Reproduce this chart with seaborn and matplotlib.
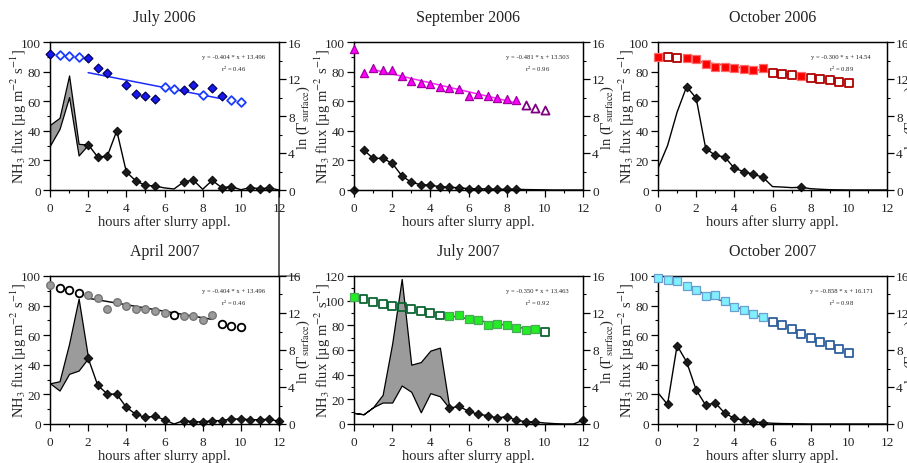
import numpy as np
import matplotlib
matplotlib.use("Agg")
import matplotlib.pyplot as plt
from matplotlib.ticker import MultipleLocator
from matplotlib.patches import ConnectionPatch
import seaborn as sns

# ------------------------------------------------------------------ data
titles = ["July 2006", "September 2006", "October 2006",
          "April 2007", "July 2007", "October 2007"]

# ---- July 2006
jul06_ln_x = [0, 0.5, 1, 1.5, 2, 2.5, 3, 4, 4.5, 5, 5.5, 6, 6.5, 7, 7.5, 8, 8.5, 9, 9.5, 10]
jul06_ln_y = [14.74, 14.62, 14.51, 14.42, 14.30, 13.22, 12.67, 11.31, 10.43, 10.11, 9.79,
              11.12, 10.94, 10.86, 11.34, 10.29, 10.98, 10.11, 9.71, 9.46]
jul06_ln_filled = [1, 0, 0, 0, 1, 1, 1, 1, 1, 1, 1, 0, 0, 1, 1, 0, 1, 1, 0, 0]
jul06_flux_x = [2, 2.5, 3, 3.5, 4, 4.5, 5, 5.5, 6, 6.5, 7, 7.5, 8, 8.5, 9, 9.5, 10, 10.5, 11, 11.5, 12]
jul06_flux_y = [30.7, 22.3, 22.8, 40.0, 12.2, 6.1, 3.2, 2.7, 1.4, 0.7, 5.4, 6.8, 0.5, 6.5,
                1.6, 2.3, 0.2, 1.6, 0.9, 1.4, 0.0]
jul06_flux_mark = [1, 1, 1, 1, 1, 1, 1, 1, 0, 0, 1, 1, 0, 1, 1, 1, 0, 1, 1, 1, 0]
jul06_band_x = [0, 0.5, 1, 1.5, 2]
jul06_band_lo = [30.0, 41.3, 62.8, 23.3, 30.7]
jul06_band_hi = [44.0, 48.8, 77.4, 31.2, 30.7]
jul06_fit = [-0.404, 13.496]
jul06_fit_range = [2, 9]
jul06_eq = ["y = -0.404 * x + 13.496", "r$^2$ = 0.46"]

# ---- September 2006
sep06_ln_x = [0, 0.5, 1, 1.5, 2, 2.5, 3, 3.5, 4, 4.5, 5, 5.5, 6, 6.5, 7, 7.5, 8, 8.5, 9, 9.5, 10]
sep06_ln_y = [15.28, 12.61, 13.22, 13.01, 12.93, 12.35, 11.81, 11.52, 11.41, 11.17, 10.98,
              10.91, 10.19, 10.34, 10.14, 9.90, 9.79, 9.71, 9.14, 8.88, 8.70]
sep06_ln_filled = [1] * 18 + [0, 0, 0]
sep06_flux_x = [0, 0.5, 1, 1.5, 2, 2.5, 3, 3.5, 4, 4.5, 5, 5.5, 6, 6.5, 7, 7.5, 8, 8.5,
                9, 9.5, 10, 10.5, 11, 11.5, 12]
sep06_flux_y = [0.0, 27.1, 21.4, 21.4, 18.1, 9.7, 5.2, 3.6, 3.2, 2.3, 1.8, 1.6, 0.9, 0.9,
                0.7, 0.5, 0.5, 0.5, 0.3, 0.2, 0.1, 0, 0, 0, 0]
sep06_flux_mark = [1] * 18 + [0] * 7
sep06_line_start = 1
sep06_fit = [-0.481, 13.503]
sep06_fit_range = [1, 8.5]
sep06_eq = ["y = -0.481 * x + 13.503", "r$^2$ = 0.96"]

# ---- October 2006
oct06_ln_x = [0, 0.5, 1, 1.5, 2, 2.5, 3, 3.5, 4, 4.5, 5, 5.5, 6, 6.5, 7, 7.5, 8, 8.5, 9, 9.5, 10]
oct06_ln_y = [14.37, 14.34, 14.27, 14.22, 14.16, 13.65, 13.33, 13.33, 13.15, 13.04, 12.96,
              13.15, 12.67, 12.53, 12.43, 12.32, 12.10, 11.95, 11.84, 11.70, 11.52]
oct06_ln_filled = [1, 0, 0, 1, 1, 1, 1, 1, 1, 1, 1, 1, 0, 0, 0, 1, 0, 0, 0, 0, 0]
oct06_flux_x = [0, 0.5, 1, 1.5, 2, 2.5, 3, 3.5, 4, 4.5, 5, 5.5, 6, 6.5, 7, 7.5, 8, 8.5,
                9, 9.5, 10, 10.5, 11, 11.5, 12]
oct06_flux_y = [14.7, 30.0, 52.6, 69.8, 62.1, 28.0, 23.5, 22.3, 14.7, 12.4, 10.6, 8.6, 2.3,
                2.0, 1.6, 1.8, 0.9, 0.5, 0.2, 0.1, 0, 0, 0, 0, 0]
oct06_flux_mark = [0, 0, 0, 1, 1, 1, 1, 1, 1, 1, 1, 1, 0, 0, 0, 1, 0, 0, 0, 0, 0, 0, 0, 0, 0]
oct06_fit = [-0.300, 14.54]
oct06_fit_range = [1.5, 7.5]
oct06_eq = ["y = -0.300 * x + 14.54", "r$^2$ = 0.89"]

# ---- April 2007
apr07_ln_x = [0, 0.5, 1, 1.5, 2, 2.5, 3, 3.5, 4, 4.5, 5, 5.5, 6, 6.5, 7, 7.5, 8, 8.5, 9, 9.5, 10]
apr07_ln_y = [14.99, 14.70, 14.45, 14.16, 13.90, 13.62, 12.43, 13.15, 12.72, 12.46, 12.38,
              12.18, 11.98, 11.78, 11.63, 11.66, 11.20, 11.81, 10.83, 10.62, 10.48]
apr07_ln_filled = [1, 0, 0, 0, 1, 1, 1, 1, 1, 1, 1, 1, 1, 0, 1, 1, 1, 1, 0, 0, 0]
apr07_flux_x = [2, 2.5, 3, 3.5, 4, 4.5, 5, 5.5, 6, 6.5, 7, 7.5, 8, 8.5, 9, 9.5, 10, 10.5, 11, 11.5, 12]
apr07_flux_y = [44.5, 26.2, 20.3, 20.1, 11.3, 6.5, 4.5, 5.2, 2.9, 0.0, 2.3, 1.6, 1.4, 2.3,
                2.3, 3.4, 3.4, 2.9, 2.9, 3.2, 1.8]
apr07_flux_mark = [1, 1, 1, 1, 1, 1, 1, 1, 1, 0, 1, 1, 1, 1, 1, 1, 1, 1, 1, 1, 1]
apr07_band_x = [0, 0.5, 1, 1.5, 2]
apr07_band_lo = [27.5, 22.6, 33.9, 36.1, 44.5]
apr07_band_hi = [27.5, 28.9, 54.2, 84.7, 44.5]
apr07_fit = [-0.352, 14.30]
apr07_fit_range = [2, 8.5]
apr07_eq = ["y = -0.404 * x + 13.496", "r$^2$ = 0.46"]

# ---- July 2007
jul07_ln_x = [0, 0.5, 1, 1.5, 2, 2.5, 3, 3.5, 4, 4.5, 5, 5.5, 6, 6.5, 7, 7.5, 8, 8.5, 9, 9.5, 10]
jul07_ln_y = [13.68, 13.47, 13.21, 13.00, 12.77, 12.64, 12.39, 12.20, 11.99, 11.73, 11.63,
              11.76, 11.40, 11.29, 10.68, 10.83, 10.72, 10.39, 10.11, 10.28, 9.96]
jul07_ln_filled = [1, 0, 0, 0, 0, 0, 0, 0, 0, 0, 1, 1, 1, 1, 1, 1, 1, 1, 1, 1, 0]
jul07_flux_x = [5, 5.5, 6, 6.5, 7, 7.5, 8, 8.5, 9, 9.5, 10, 10.5, 11, 11.5, 12]
jul07_flux_y = [12.8, 14.4, 10.3, 7.9, 6.8, 4.9, 6.0, 3.0, 1.9, 1.6, 0.8, 0.3, 0.0, 0.0, 3.0]
jul07_flux_mark = [1, 1, 1, 1, 1, 1, 1, 1, 1, 1, 0, 0, 0, 0, 1]
jul07_band_x = [0, 0.5, 1, 1.5, 2, 2.5, 3, 3.5, 4, 4.5, 5]
jul07_band_lo = [9.0, 7.9, 13.6, 17.4, 17.4, 31.2, 26.1, 9.5, 25.0, 22.5, 12.8]
jul07_band_hi = [9.0, 7.9, 13.6, 23.6, 65.2, 117.6, 48.1, 50.2, 59.5, 61.9, 12.8]
jul07_fit = [-0.350, 13.463]
jul07_fit_range = [5, 9.5]
jul07_eq = ["y = -0.350 * x + 13.463", "r$^2$ = 0.92"]

# ---- October 2007
oct07_ln_x = [0, 0.5, 1, 1.5, 2, 2.5, 3, 3.5, 4, 4.5, 5, 5.5, 6, 6.5, 7, 7.5, 8, 8.5, 9, 9.5, 10]
oct07_ln_y = [15.74, 15.52, 15.42, 14.94, 14.48, 13.82, 13.97, 13.31, 12.66, 12.29, 11.89,
              11.52, 11.06, 10.66, 10.22, 9.78, 9.34, 8.91, 8.51, 8.08, 7.63]
oct07_ln_filled = [1] * 12 + [0] * 9
oct07_flux_x = [0, 0.5, 1, 1.5, 2, 2.5, 3, 3.5, 4, 4.5, 5, 5.5, 6, 6.5, 7, 7.5, 8, 8.5,
                9, 9.5, 10, 10.5, 11, 11.5, 12]
oct07_flux_y = [21.1, 13.2, 53.0, 42.0, 23.0, 12.7, 14.3, 7.3, 3.9, 2.5, 1.6, 0.9, 0.5, 0.3,
                0.2, 0.1, 0, 0, 0, 0, 0, 0, 0, 0, 0]
oct07_flux_mark = [0] + [1] * 11 + [0] * 13
oct07_fit = [-0.858, 16.171]
oct07_fit_range = [1.5, 5.5]
oct07_eq = ["y = -0.858 * x + 16.171", "r$^2$ = 0.98"]

# ------------------------------------------------------------------ style
sns.set_style("ticks")
plt.rcParams["font.family"] = ["Liberation Serif", "DejaVu Serif"]
plt.rcParams["mathtext.fontset"] = "stix"
plt.rcParams["axes.linewidth"] = 0.9
plt.rcParams["text.color"] = "#222222"

panels = [
    dict(ln=(jul06_ln_x, jul06_ln_y, jul06_ln_filled), flux=(jul06_flux_x, jul06_flux_y, jul06_flux_mark),
         band=(jul06_band_x, jul06_band_lo, jul06_band_hi), fit=jul06_fit, fr=jul06_fit_range, eq=jul06_eq,
         marker="D", s=20, fc="#1818f0", ec="#00005a", oc="#1a3cff", ofc="white", fitc="#1a2cff", ymax=100),
    dict(ln=(sep06_ln_x, sep06_ln_y, sep06_ln_filled), flux=(sep06_flux_x, sep06_flux_y, sep06_flux_mark),
         band=None, fit=sep06_fit, fr=sep06_fit_range, eq=sep06_eq, line_start=sep06_line_start,
         marker="^", s=34, fc="#ff00ff", ec="#a000a0", oc="#800080", ofc="white", fitc="#ff22ff", ymax=100),
    dict(ln=(oct06_ln_x, oct06_ln_y, oct06_ln_filled), flux=(oct06_flux_x, oct06_flux_y, oct06_flux_mark),
         band=None, fit=oct06_fit, fr=oct06_fit_range, eq=oct06_eq,
         marker="s", s=38, fc="#ff0000", ec="#ff6a6a", oc="#b00000", ofc="white", fitc="#ff2020", ymax=100),
    dict(ln=(apr07_ln_x, apr07_ln_y, apr07_ln_filled), flux=(apr07_flux_x, apr07_flux_y, apr07_flux_mark),
         band=(apr07_band_x, apr07_band_lo, apr07_band_hi), fit=apr07_fit, fr=apr07_fit_range, eq=apr07_eq,
         marker="o", s=30, fc="#9a9a9a", ec="#707070", oc="#000000", ofc="white", fitc="#111111", ymax=100),
    dict(ln=(jul07_ln_x, jul07_ln_y, jul07_ln_filled), flux=(jul07_flux_x, jul07_flux_y, jul07_flux_mark),
         band=(jul07_band_x, jul07_band_lo, jul07_band_hi), fit=jul07_fit, fr=jul07_fit_range, eq=jul07_eq,
         marker="s", s=32, fc="#22ee22", ec="#4aaa5a", oc="#0b6630", ofc="none", fitc="#1e5a30", ymax=120),
    dict(ln=(oct07_ln_x, oct07_ln_y, oct07_ln_filled), flux=(oct07_flux_x, oct07_flux_y, oct07_flux_mark),
         band=None, fit=oct07_fit, fr=oct07_fit_range, eq=oct07_eq,
         marker="s", s=34, fc="#80f0ff", ec="#6a9fd0", oc="#2e5f9e", ofc="white", fitc="#2e5a8a", ymax=100),
]

fig = plt.figure(figsize=(9.07, 4.64), dpi=100)
lefts = [50 / 907, 354 / 907, 658 / 907]
bottoms = [1 - 191 / 464, 1 - 425 / 464]
w = 229 / 907
h = 148 / 464

axes_list = []
for i, P in enumerate(panels):
    r, c = divmod(i, 3)
    ax = fig.add_axes([lefts[c], bottoms[r], w, h])
    axes_list.append(ax)
    tw = ax.twinx()
    ax.set_zorder(1)
    tw.set_zorder(2)
    ax.patch.set_visible(False)

    # band
    if P["band"] is not None:
        bx, blo, bhi = P["band"]
        ax.fill_between(bx, blo, bhi, facecolor="#9b9b9b", edgecolor="black", linewidth=0.9, zorder=2)

    # flux line + diamonds
    fx, fy, fm = (np.asarray(v, dtype=float) for v in P["flux"])
    st = P.get("line_start", 0)
    sns.lineplot(x=fx[st:], y=fy[st:], ax=ax, color="black", linewidth=1.0, sort=False,
                 estimator=None, zorder=3)
    mk = fm.astype(bool)
    sns.scatterplot(x=fx[mk], y=fy[mk], ax=ax, marker="D", s=20, color="#1a1a1a",
                    edgecolor="black", linewidth=0.6, zorder=4, clip_on=False)

    # ln(Gamma) markers
    lx, ly, lf = (np.asarray(v, dtype=float) for v in P["ln"])
    filled = lf.astype(bool)
    sns.lineplot(x=np.array(P["fr"]), y=P["fit"][0] * np.array(P["fr"]) + P["fit"][1], ax=tw,
                 color=P["fitc"], linewidth=1.1, zorder=2)
    sns.scatterplot(x=lx[~filled], y=ly[~filled], ax=tw, marker=P["marker"], s=P["s"],
                    color=P["ofc"], edgecolor=P["oc"], linewidth=1.3, zorder=3, clip_on=False)
    sns.scatterplot(x=lx[filled], y=ly[filled], ax=tw, marker=P["marker"], s=P["s"],
                    color=P["fc"], edgecolor=P["ec"], linewidth=0.9, zorder=4, clip_on=False)

    # axes
    ax.set_xlim(0, 12)
    ax.set_ylim(0, P["ymax"])
    tw.set_ylim(0, 16)
    ax.xaxis.set_major_locator(MultipleLocator(2))
    ax.xaxis.set_minor_locator(MultipleLocator(1))
    ax.yaxis.set_major_locator(MultipleLocator(20))
    ax.yaxis.set_minor_locator(MultipleLocator(10))
    tw.yaxis.set_major_locator(MultipleLocator(4))
    tw.yaxis.set_minor_locator(MultipleLocator(2))
    for a in (ax, tw):
        a.tick_params(which="major", length=5, width=0.9, labelsize=9.5, colors="black",
                      labelcolor="#222222")
        a.tick_params(which="minor", length=2.5, width=0.8, colors="black")
        for sp in a.spines.values():
            sp.set_visible(True)
            sp.set_color("black")
    ax.tick_params(axis="x", pad=4)
    ax.tick_params(axis="y", pad=1.5)
    tw.tick_params(axis="y", pad=1.5)

    ax.set_xlabel("hours after slurry appl.", fontsize=10.5, labelpad=0)
    ax.set_ylabel("NH$_3$ flux [µg m$^{-2}$ s$^{-1}$]", fontsize=10.5)
    tw.set_ylabel("ln (Γ$_{\\mathrm{surface}}$)", fontsize=10.5)
    ax.yaxis.label.set_va("center")
    tw.yaxis.label.set_va("center")
    ax.yaxis.set_label_coords(-0.138, 0.5)
    tw.yaxis.set_label_coords(1.105, 0.5)
    ax.set_title(titles[i], fontsize=11.5, pad=15)

    tw.text(0.80, 0.905, P["eq"][0], transform=tw.transAxes, fontsize=4.8, ha="center", va="center")
    tw.text(0.80, 0.82, P["eq"][1], transform=tw.transAxes, fontsize=4.8, ha="center", va="center")

# stray frame lines of the pasted panel images
fig.add_artist(ConnectionPatch(xyA=(1, 0), coordsA=axes_list[0].transAxes,
                               xyB=(1, 1), coordsB=axes_list[3].transAxes,
                               color="black", linewidth=0.9))
fig.add_artist(ConnectionPatch(xyA=(1, 1), coordsA=axes_list[3].transAxes,
                               xyB=(1.09, 1), coordsB=axes_list[3].transAxes,
                               color="#555555", linewidth=0.9))

fig.savefig("out.png", dpi=100)
